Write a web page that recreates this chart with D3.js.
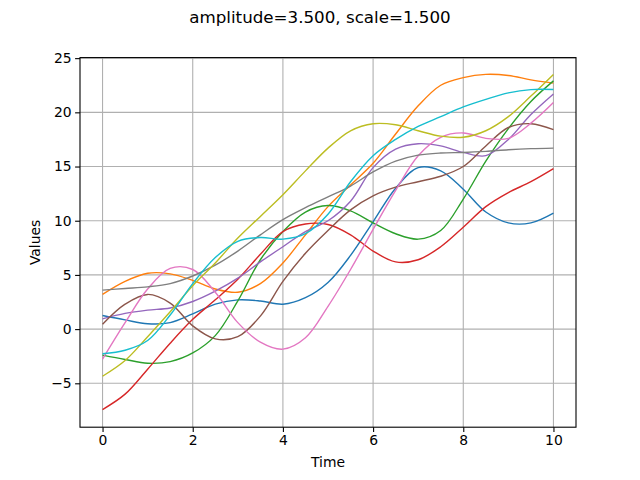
<!DOCTYPE html>
<html><head><meta charset="utf-8">
<script src="https://cdn.jsdelivr.net/npm/d3@7"></script>
<style>body{margin:0;background:#fff}svg{display:block}text{font-family:"DejaVu Sans",sans-serif;fill:#000}</style>
</head><body>
<svg id="c" width="640" height="480"></svg>
<script>
const time = [0,0.5,1,1.5,2,2.5,3,3.5,4,4.5,5,5.5,6,6.5,7,7.5,8,8.5,9,9.5,10];
const s0 = [1.25,0.85,0.5,0.6,1.4,2.3,2.7,2.6,2.3,2.9,4.3,6.8,9.9,13.0,14.9,14.6,12.9,10.8,9.8,9.8,10.7];
const s1 = [3.2,4.4,5.15,5.1,4.5,3.7,3.4,4.2,6.1,8.7,11.3,13.3,15.3,18.0,20.6,22.5,23.2,23.5,23.4,23.0,22.7];
const s2 = [-2.4,-2.8,-3.15,-3.0,-2.2,-0.6,2.6,6.4,9.0,10.8,11.4,10.9,9.8,8.8,8.3,9.1,12.0,15.5,18.5,21.0,22.9];
const s3 = [-7.42,-6.0,-3.7,-1.3,0.9,2.7,4.6,6.9,9.0,9.7,9.65,8.7,7.2,6.2,6.4,7.6,9.4,11.3,12.6,13.6,14.8];
const s4 = [0.95,1.45,1.75,1.95,2.55,3.5,4.7,6.2,7.6,9.0,10.0,11.8,14.9,16.6,17.1,16.9,16.3,16.0,17.5,19.8,21.7];
const s5 = [0.45,2.3,3.2,2.4,0.3,-0.9,-0.7,1.2,4.4,7.0,9.1,11.0,12.3,13.1,13.6,14.1,15.0,16.9,18.6,18.95,18.4];
const s6 = [-2.76,0.6,3.7,5.6,5.5,3.4,0.6,-1.2,-1.85,-0.8,2.1,5.5,9.2,12.8,16.0,17.7,18.1,17.6,17.6,19.0,20.9];
const s7 = [3.6,3.75,3.9,4.2,4.9,5.9,7.2,8.7,10.1,11.2,12.2,13.2,14.5,15.5,16.05,16.25,16.3,16.4,16.55,16.65,16.7];
const s8 = [-4.35,-2.9,-0.7,1.6,4.0,6.1,8.4,10.4,12.4,14.6,16.7,18.3,18.95,18.85,18.3,17.8,17.7,18.3,19.6,21.5,23.5];
const s9 = [-2.27,-1.95,-1.05,1.3,4.2,6.6,8.1,8.45,8.3,8.8,10.6,13.6,16.0,17.5,18.7,19.6,20.5,21.2,21.8,22.1,22.1];
const series = [s0,s1,s2,s3,s4,s5,s6,s7,s8,s9];
const xTicks = [0,2,4,6,8,10];
const yTicks = [-5,0,5,10,15,20,25];
const colors = ["#1f77b4","#ff7f0e","#2ca02c","#d62728","#9467bd","#8c564b","#e377c2","#7f7f7f","#bcbd22","#17becf"];
const title = "amplitude=3.500, scale=1.500";

const L=80,T=57.6,R=576,B=427.2;
const svg=d3.select("#c");
const x=d3.scaleLinear().domain([-0.5,10.5]).range([L,R]);
const y=d3.scaleLinear().domain([-9.05,25.05]).range([B,T]);

// grid
const g=svg.append("g");
g.selectAll(".gx").data(xTicks).enter().append("line")
 .attr("x1",d=>x(d)).attr("x2",d=>x(d)).attr("y1",T).attr("y2",B)
 .attr("stroke","#b0b0b0").attr("stroke-width",1.1);
g.selectAll(".gy").data(yTicks).enter().append("line")
 .attr("y1",d=>y(d)).attr("y2",d=>y(d)).attr("x1",L).attr("x2",R)
 .attr("stroke","#b0b0b0").attr("stroke-width",1.1);

// lines
const line=d3.line().x((d,i)=>x(time[i])).y(d=>y(d)).curve(d3.curveCatmullRom.alpha(0.5));
svg.append("defs").append("clipPath").attr("id","cp").append("rect").attr("x",L).attr("y",T).attr("width",R-L).attr("height",B-T);
const lg=svg.append("g").attr("clip-path","url(#cp)");
series.forEach((s,i)=>{
  lg.append("path").attr("d",line(s)).attr("fill","none").attr("stroke",colors[i]).attr("stroke-width",1.4);
});

// axes
const xa=svg.append("g").attr("transform",`translate(0,${B})`)
 .call(d3.axisBottom(x).tickValues(xTicks).tickFormat(d3.format("d")).tickSize(4.9).tickPadding(3.5));
const ya=svg.append("g").attr("transform",`translate(${L},0)`)
 .call(d3.axisLeft(y).tickValues(yTicks).tickFormat(d=>d<0?"\u2212"+Math.abs(d):d).tickSize(4.9).tickPadding(3.5));
[xa,ya].forEach(a=>{
  a.select(".domain").remove();
  a.selectAll("line").attr("stroke","#000").attr("stroke-width",1.1);
  a.selectAll("text").attr("font-size","13.9px").attr("font-family","DejaVu Sans").attr("fill","#000");
});
svg.append("rect").attr("x",L).attr("y",T).attr("width",R-L).attr("height",B-T)
 .attr("fill","none").attr("stroke","#000").attr("stroke-width",1.1);

svg.append("text").attr("x",(L+R)/2).attr("y",466.5).attr("text-anchor","middle").attr("font-size","13.9px").text("Time");
svg.append("text").attr("transform",`translate(39.5,${(T+B)/2}) rotate(-90)`).attr("text-anchor","middle").attr("font-size","13.9px").text("Values");
svg.append("text").attr("x",320).attr("y",22.5).attr("text-anchor","middle").attr("font-size","16.7px").text(title);
</script>
</body></html>
